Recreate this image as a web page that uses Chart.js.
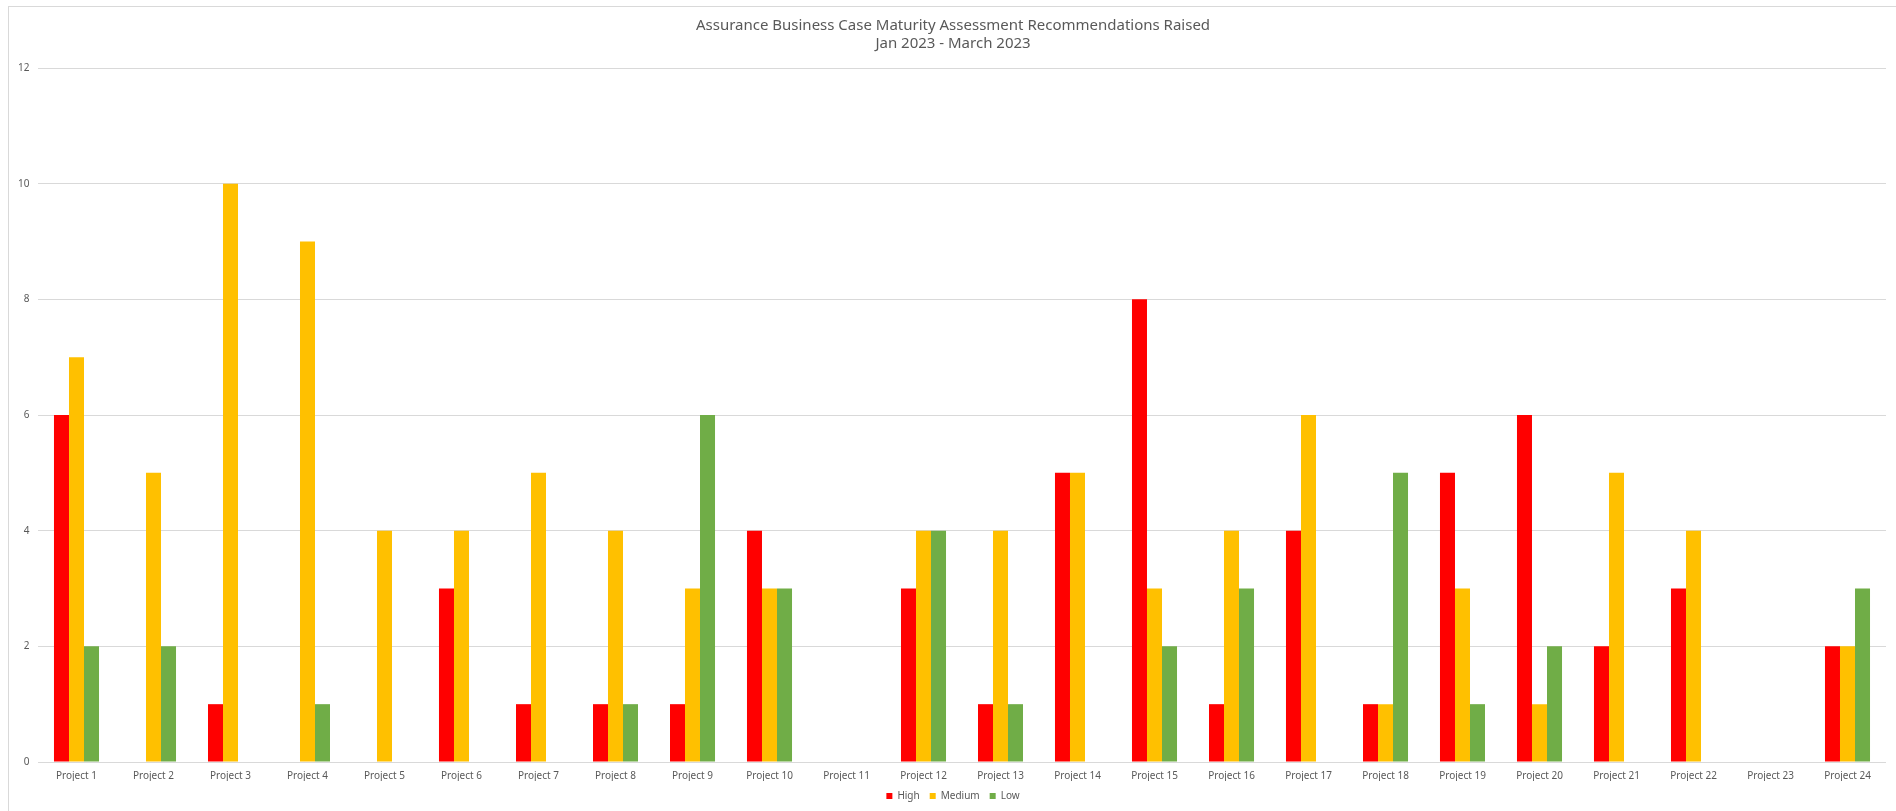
<!DOCTYPE html>
<html>
<head>
<meta charset="utf-8">
<script src="https://cdn.jsdelivr.net/npm/chart.js@4/dist/chart.umd.min.js"></script>
<style>
  html, body { margin: 0; padding: 0; background: #fff; }
  #wrap { position: relative; width: 1896px; height: 811px; overflow: hidden; }
  #frame { position: absolute; left: 8px; top: 6px; width: 1900px; height: 820px;
           border-left: 1px solid #d9d9d9; border-top: 1px solid #d9d9d9; }
  canvas { position: absolute; left: 0; top: 0; }
</style>
</head>
<body>
<div id="wrap">
  <div id="frame"></div>
  <canvas id="chart" width="1896" height="811"></canvas>
</div>
<script>
const projects = [
  'Project 1', 'Project 2', 'Project 3', 'Project 4', 'Project 5', 'Project 6',
  'Project 7', 'Project 8', 'Project 9', 'Project 10', 'Project 11', 'Project 12',
  'Project 13', 'Project 14', 'Project 15', 'Project 16', 'Project 17', 'Project 18',
  'Project 19', 'Project 20', 'Project 21', 'Project 22', 'Project 23', 'Project 24'
];

const high   = [6, 0, 1, 0, 0, 3, 1, 1, 1, 4, 0, 3, 1, 5, 8, 1, 4, 1, 5, 6, 2, 3, 0, 2];
const medium = [7, 5, 10, 9, 4, 4, 5, 4, 3, 3, 0, 4, 4, 5, 3, 4, 6, 1, 3, 1, 5, 4, 0, 2];
const low    = [2, 2, 0, 1, 0, 0, 0, 1, 6, 3, 0, 4, 1, 0, 2, 3, 0, 5, 1, 2, 0, 0, 0, 3];

const titleLines = [
  'Assurance Business Case Maturity Assessment Recommendations Raised',
  'Jan 2023 - March 2023'
];

const textColor = '#595959';
const gridColor = '#d9d9d9';
const fontFamily = '"Noto Sans", "Liberation Sans", sans-serif';

const ctx = document.getElementById('chart').getContext('2d');
new Chart(ctx, {
  type: 'bar',
  data: {
    labels: projects,
    datasets: [
      { label: 'High', data: high, backgroundColor: '#ff0000' },
      { label: 'Medium', data: medium, backgroundColor: '#ffc000' },
      { label: 'Low', data: low, backgroundColor: '#70ad47' }
    ]
  },
  options: {
    responsive: false,
    animation: false,
    // left padding keeps title/legend centred like the original
    layout: { padding: { left: 20, right: 10, top: 0, bottom: 0 } },
    datasets: {
      bar: { categoryPercentage: 0.585, barPercentage: 1.0, borderWidth: 0 }
    },
    plugins: {
      tooltip: { enabled: false },
      title: {
        display: true,
        text: titleLines,
        color: textColor,
        font: { family: fontFamily, size: 15, weight: 'normal', lineHeight: 1.2 },
        padding: { top: 17, bottom: 15 }
      },
      legend: {
        position: 'bottom',
        labels: {
          color: textColor,
          font: { family: fontFamily, size: 10 },
          boxWidth: 6,
          boxHeight: 6,
          padding: 10
        }
      }
    },
    scales: {
      x: {
        grid: { display: false, drawTicks: false },
        border: { display: false },
        ticks: {
          color: textColor,
          font: { family: fontFamily, size: 10 },
          padding: 8,
          maxRotation: 0,
          autoSkip: false
        },
        afterFit: (scale) => { scale.height = 19; }
      },
      y: {
        min: 0,
        max: 12,
        grid: { color: gridColor, drawTicks: false },
        border: { display: false },
        ticks: {
          stepSize: 2,
          color: textColor,
          font: { family: fontFamily, size: 10 },
          // mirrored so the labels are not clipped to the narrow axis box
          mirror: true,
          crossAlign: 'far',
          padding: -20
        },
        afterFit: (scale) => { scale.width = 18; }
      }
    }
  }
});
</script>
</body>
</html>
